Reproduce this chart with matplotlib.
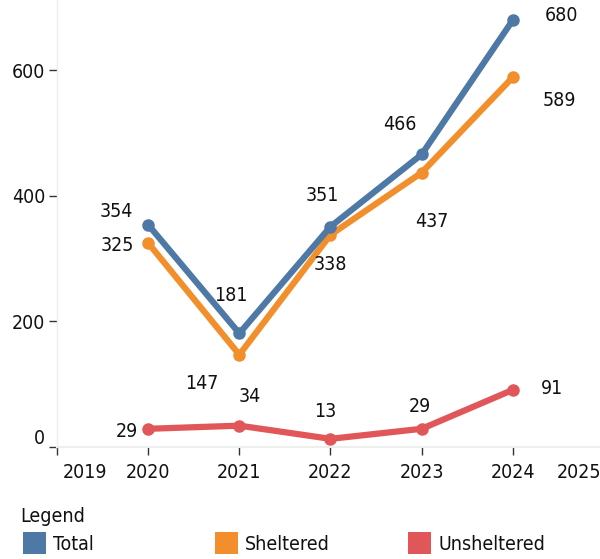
import matplotlib
matplotlib.use("Agg")
import matplotlib.pyplot as plt
from matplotlib.patches import Rectangle
from matplotlib.transforms import ScaledTranslation

# ---- data ----
years = [2020, 2021, 2022, 2023, 2024]
total = [354, 181, 351, 466, 680]
sheltered = [325, 147, 338, 437, 589]
unsheltered = [29, 34, 13, 29, 91]
series_names = ["Total", "Sheltered", "Unsheltered"]
x_ticks = [2019, 2020, 2021, 2022, 2023, 2024, 2025]
y_ticks = [0, 200, 400, 600]

colors = ["#4E79A7", "#F28E2B", "#E15759"]

plt.rcParams["font.family"] = ["DejaVu Sans"]
plt.rcParams["font.stretch"] = "condensed"
FS = 14

W, H = 600, 559
fig = plt.figure(figsize=(W / 100, H / 100), dpi=100)
ax = fig.add_axes([57 / W, 112 / H, 547 / W, 447 / H])
ax.set_xlim(2019, 2025)
ax.set_ylim(0, 712)

series = [total, sheltered, unsheltered]
# label offsets in pixels (dx, dy) per series/point
offsets = [
    [(-32, 15), (-8, 40), (-8, 33), (-22, 32), (49, 7)],
    [(-31, -1), (-38, -27), (0, -28), (10, -47), (47, -21)],
    [(-21, -1), (10, 31), (-5, 29), (-2, 24), (39, 3)],
]
zorders = [4, 3, 2]
for vals, col, offs, z in zip(series, colors, offsets, zorders):
    ax.plot(years, vals, color=col, lw=4.5, marker="o", markersize=8,
            solid_capstyle="round", zorder=z, clip_on=False)
    for xv, yv, (dx, dy) in zip(years, vals, offs):
        ax.annotate(str(yv), (xv, yv), xytext=(dx, dy - 2), textcoords="offset pixels",
                    ha="center", va="center", fontsize=FS, color="#111111", zorder=6)

# axes styling
for s in ["top", "right"]:
    ax.spines[s].set_visible(False)
ax.spines["left"].set_color("#eeeeee")
ax.spines["left"].set_linewidth(1)
ax.spines["bottom"].set_color("#eeeeee")
ax.spines["bottom"].set_linewidth(1.5)

ax.set_xticks(x_ticks)
ax.set_xticklabels([str(v) for v in x_ticks])
ax.set_yticks(y_ticks)
ax.set_yticklabels([str(v) for v in y_ticks])
ax.tick_params(axis="both", colors="#333333", labelcolor="#111111",
               labelsize=FS, length=5.5, width=1)
ax.tick_params(axis="x", pad=6)
ax.tick_params(axis="y", pad=3)

xl = ax.get_xticklabels()
xl[0].set_horizontalalignment("left")
xl[0].set_transform(xl[0].get_transform() + ScaledTranslation(4 / 72, 0, fig.dpi_scale_trans))
xl[-1].set_horizontalalignment("right")
xl[-1].set_transform(xl[-1].get_transform() + ScaledTranslation(-2 / 72, 0, fig.dpi_scale_trans))
yl = ax.get_yticklabels()
yl[0].set_verticalalignment("bottom")
yl[0].set_transform(yl[0].get_transform() + ScaledTranslation(0, -1 / 72, fig.dpi_scale_trans))

# legend (manual)
fig.text(20 / W, 1 - 517 / H, "Legend", fontsize=FS, color="#111111", ha="left", va="center")
leg_x = [23, 215, 408]
for name, col, lx in zip(series_names, colors, leg_x):
    fig.patches.append(Rectangle((lx / W, 1 - 554 / H), 23 / W, 22 / H,
                                 transform=fig.transFigure, facecolor=col, edgecolor="none"))
    fig.text((lx + 30) / W, 1 - 544 / H, name, fontsize=FS, color="#111111",
             ha="left", va="center")

fig.savefig("out.png", dpi=100)
